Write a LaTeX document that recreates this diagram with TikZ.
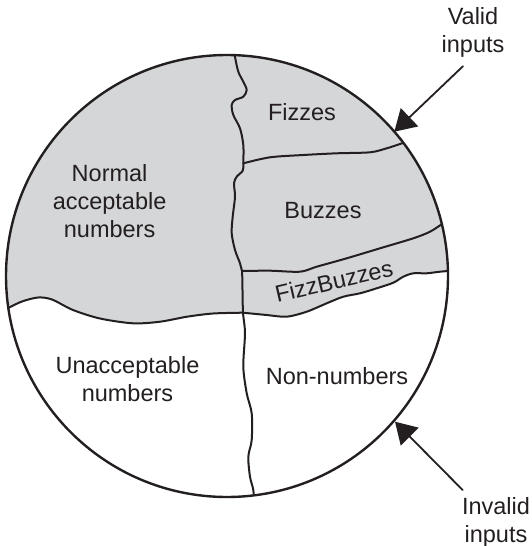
\documentclass[tikz,border=0pt]{standalone}
\usepackage{fontspec}
\setmainfont{Liberation Sans}
\usetikzlibrary{arrows.meta}
\definecolor{ink}{HTML}{231F20}
\definecolor{validgray}{HTML}{D5D6D8}
\tikzset{
  arr/.style={-{Triangle[length=10.5pt,width=12.5pt]}, line width=0.9pt, draw=ink},
  figbase/.style={
    x=0.5pt, y=-0.5pt,
    font=\fontsize{11.75}{14}\selectfont,
    color=ink,
    line cap=round,
    line join=round,
  },
  rim/.style={draw=ink, line width=1.2pt},
  seam/.style={draw=ink, line width=1pt},
  lab/.style={text=ink, align=center, inner sep=0pt},
}

\begin{document}
\begin{tikzpicture}[figbase]
  \useasboundingbox (0,0) rectangle (531,546);
  \coordinate (o) at (227,276);

  \begin{scope}
    \clip (o) circle[radius=110.5pt];
    % valid region
    \fill[validgray] plot[smooth] coordinates {(-5,314) (8,308) (22,301.5) (38,297.5)
        (52,299.5) (73,310) (100,318.5) (133,323.3) (160,321.7) (187,316.7) (213,313.5) (243,312.7)}
      -- plot[smooth] coordinates {(243,312.7) (266.7,315) (286.7,316.7) (306.7,311.7)
        (326.7,303.3) (343.3,296.7) (360,293.3) (376.7,288.3) (393.3,282.7) (403.3,276.7)
        (413.3,273.3) (426.7,273.3) (440,271.7) (460,270)}
      -- (470,30) -- (-10,30) -- cycle;
    \draw[seam] plot[smooth] coordinates {(-5,314) (8,308) (22,301.5) (38,297.5)
        (52,299.5) (73,310) (100,318.5) (133,323.3) (160,321.7) (187,316.7) (213,313.5) (243,312.7)};
    \draw[seam] plot[smooth] coordinates {(243,312.7) (266.7,315) (286.7,316.7) (306.7,311.7)
        (326.7,303.3) (343.3,296.7) (360,293.3) (376.7,288.3) (393.3,282.7) (403.3,276.7)
        (413.3,273.3) (426.7,273.3) (440,271.7) (460,270)};
    \draw[seam] plot[smooth] coordinates {(234,45) (235,56.7) (238.3,71.7) (243.3,81.7)
        (246.7,90) (243.3,96.7) (235,100) (231.7,105) (233.3,115) (240,128.3) (243.3,145)
        (243.3,163.3) (242.7,170.7) (236.7,176.7) (234,183.3) (235,196.7) (232.7,216.7)
        (231.7,233.3) (235,250) (240,263.3) (242,271) (242.5,290) (243,312.7) (245,333)
        (243.3,366.7) (246.7,393.3) (251.7,413.3) (251.7,440) (248.3,456.7) (250,476.7)
        (253.3,490) (254,505)};
    \draw[seam] plot[smooth] coordinates {(243.3,163.3) (270,157.3) (303.3,155) (336.7,153.3)
        (370,152.3) (386.7,148.3) (400,144) (415,139)};
    \draw[seam] plot[smooth] coordinates {(242,271) (270,270.7) (300,271.7) (316.7,266.7)
        (346.7,258.3) (380,248.3) (413.3,238.3) (430,231.7) (441.7,224.3) (455,216)};
  \end{scope}
  \draw[rim] (o) circle[radius=110.5pt];

  \node[lab, anchor=north] (normal) at (109.6,164) {Normal\\acceptable\\numbers};
  \node[lab, anchor=base] (fizz) at (302,120.7) {Fizzes};
  \node[lab, anchor=base] (buzz) at (323,218) {Buzzes};
  \node[lab, rotate=13] (fizzbuzz) at (334,281) {FizzBuzzes};
  \node[lab, anchor=north] (unacc) at (127.5,356) {Unacceptable\\numbers};
  \node[lab, anchor=base] (nonnum) at (337,384) {Non-numbers};

  \node[lab, anchor=north] (valid) at (473,7.5) {Valid\\inputs};
  \node[lab, anchor=north] (invalid) at (496,497) {Invalid\\inputs};

  \coordinate (vtip) at (394.3,131.7);
  \coordinate (itip) at (395,421.7);
  \draw[arr] ([shift={(-10,8)}]valid.south) -- (vtip);
  \draw[arr] ([shift={(1,-7)}]invalid.north west) -- (itip);
\end{tikzpicture}
\end{document}
